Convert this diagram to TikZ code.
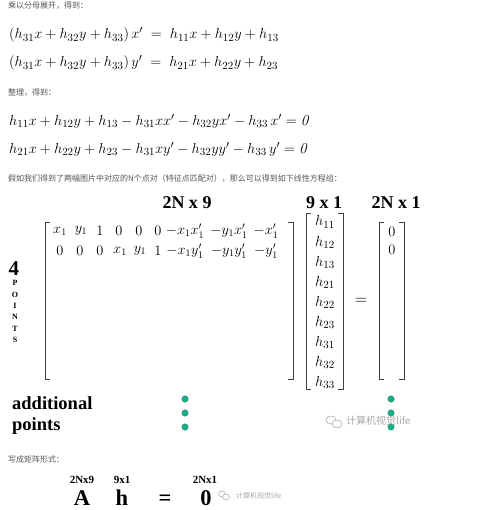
\documentclass[tikz,border=0pt]{standalone}
\usepackage{fontspec}
\newfontfamily\cjk{Noto Sans CJK SC}
\newfontfamily\tnr{Liberation Serif}
\definecolor{dotgreen}{HTML}{1AAE8A}
\definecolor{cntext}{HTML}{555555}
\definecolor{wmgray}{HTML}{A8A8A8}
\tikzset{
  cn/.style={anchor=west, inner sep=0pt, text=cntext, font=\cjk\fontsize{8}{9}\selectfont},
  eqn/.style={anchor=west, inner sep=0pt, font=\fontsize{15.2}{17}\selectfont},
  dimlbl/.style={inner sep=0pt, font=\tnr\bfseries\fontsize{18}{20}\selectfont},
  smalllbl/.style={inner sep=0pt, font=\tnr\bfseries\fontsize{11}{13}\selectfont},
  biglbl/.style={inner sep=0pt, anchor=base, font=\tnr\bfseries\fontsize{22.5}{24}\selectfont},
  sidelbl/.style={inner sep=0pt, anchor=west, font=\tnr\bfseries\fontsize{18.5}{20}\selectfont},
  pletter/.style={inner sep=0pt, font=\tnr\bfseries\fontsize{8}{9}\selectfont},
  entry/.style={inner sep=0pt, font=\fontsize{15}{17}\selectfont},
  mentry/.style={inner sep=0pt, font=\fontsize{14}{16}\selectfont},
  brk/.style={line width=0.9pt, draw=black!75},
  gdot/.style={circle, fill=dotgreen, draw=dotgreen!70!black, line width=0.3pt, minimum size=6.5pt, inner sep=0pt},
  wm/.style={inner sep=0pt, anchor=west, text=wmgray},
  wmicon/.style={draw=wmgray, line width=0.6pt}
}
\begin{document}
\begin{tikzpicture}[x=1pt,y=-1pt]
\useasboundingbox (0,0) rectangle (495,510);
% intro text
\node[cn] (t1) at (8,6) {乘以分母展开，得到：};
\node[eqn] (e1) at (9,35) {$(h_{31}x+h_{32}y+h_{33})\,x' \;=\; h_{11}x+h_{12}y+h_{13}$};
\node[eqn] (e2) at (9,63) {$(h_{31}x+h_{32}y+h_{33})\,y' \;=\; h_{21}x+h_{22}y+h_{23}$};
\node[cn] (t2) at (8,93) {整理，得到：};
\node[eqn] (e3) at (9,121) {$h_{11}x+h_{12}y+h_{13}-h_{31}xx'-h_{32}yx'-h_{33}\,x'=\mathit{0}$};
\node[eqn] (e4) at (9,149) {$h_{21}x+h_{22}y+h_{23}-h_{31}xy'-h_{32}yy'-h_{33}\,y'=\mathit{0}$};
\node[cn] (t3) at (8,179) {假如我们得到了两幅图片中对应的N个点对（特征点匹配对），那么可以得到如下线性方程组：};
% dimension labels
\node[dimlbl] (d1) at (187,203) {2N x 9};
\node[dimlbl] (d2) at (324,203) {9 x 1};
\node[dimlbl] (d3) at (396,203) {2N x 1};
% big matrix
\draw[brk] (50,222) -- (45,222) -- (45,379) -- (50,379);
\draw[brk] (288,222) -- (293,222) -- (293,379) -- (288,379);
\foreach \x/\e [count=\i] in {60/x_1, 81/y_1, 100/1, 119/0, 139/0, 158/0, 185/-x_1x'_1, 229/-y_1x'_1, 266/-x'_1} {
  \node[mentry] (a\i) at (\x,231) {$\e$};
}
\foreach \x/\e [count=\i] in {60/0, 80/0, 100/0, 120/x_1, 140/y_1, 158/1, 185/-x_1y'_1, 229/-y_1y'_1, 266/-y'_1} {
  \node[mentry] (b\i) at (\x,251) {$\e$};
}
% 4 POINTS
\node[inner sep=0pt, font=\tnr\bfseries\fontsize{21}{22}\selectfont] (four) at (14,269) {4};
\foreach \l [count=\i] in {P,O,I,N,T,S} {
  \node[pletter] (p\i) at (15,{283+11.4*(\i-1)}) {\l};
}
% h vector
\draw[brk] (311,213) -- (306,213) -- (306,389) -- (311,389);
\draw[brk] (338,213) -- (343,213) -- (343,389) -- (338,389);
\foreach \s [count=\i] in {11,12,13,21,22,23,31,32,33} {
  \node[entry] (h\i) at (325,{222+20.1*(\i-1)}) {$h_{\s}$};
}
\node[inner sep=0pt, font=\fontsize{16}{18}\selectfont] (eq) at (361,301) {$=$};
% zero vector
\draw[brk] (384,222) -- (379,222) -- (379,379) -- (384,379);
\draw[brk] (399,222) -- (404,222) -- (404,379) -- (399,379);
\node[entry] (z1) at (392,232) {$0$};
\node[entry] (z2) at (392,250) {$0$};
% additional points
\node[sidelbl] (ad) at (12,403) {additional};
\node[sidelbl] (pt) at (12,426) {points};
\foreach \yy [count=\i] in {399,413,427} {
  \node[gdot] (ld\i) at (185,\yy) {};
  \node[gdot] (rd\i) at (391,\yy) {};
}
% watermark 1
\draw[wmicon] (331,420) ellipse (5pt and 4pt);
\draw[wmicon, fill=white] (337,424) ellipse (5pt and 4pt);
\node[wm, font=\cjk\fontsize{10}{11}\selectfont] (wm1) at (346,421) {计算机视觉life};
% matrix form
\node[cn] (t4) at (8,459) {写成矩阵形式：};
\node[smalllbl] (s1) at (82,480) {2Nx9};
\node[smalllbl] (s2) at (122,480) {9x1};
\node[smalllbl] (s3) at (205,480) {2Nx1};
\node[biglbl] (A) at (82,505) {A};
\node[biglbl] (hh) at (122,505) {h};
\node[biglbl] (eq2) at (165,505) {=};
\node[biglbl] (zero) at (206,505) {0};
\draw[wmicon, line width=0.5pt] (222,494) ellipse (3.5pt and 3pt);
\draw[wmicon, line width=0.5pt, fill=white] (226,497) ellipse (3.5pt and 3pt);
\node[wm, font=\cjk\fontsize{7}{8}\selectfont] (wm2) at (236,496) {计算机视觉life};
\end{tikzpicture}
\end{document}
